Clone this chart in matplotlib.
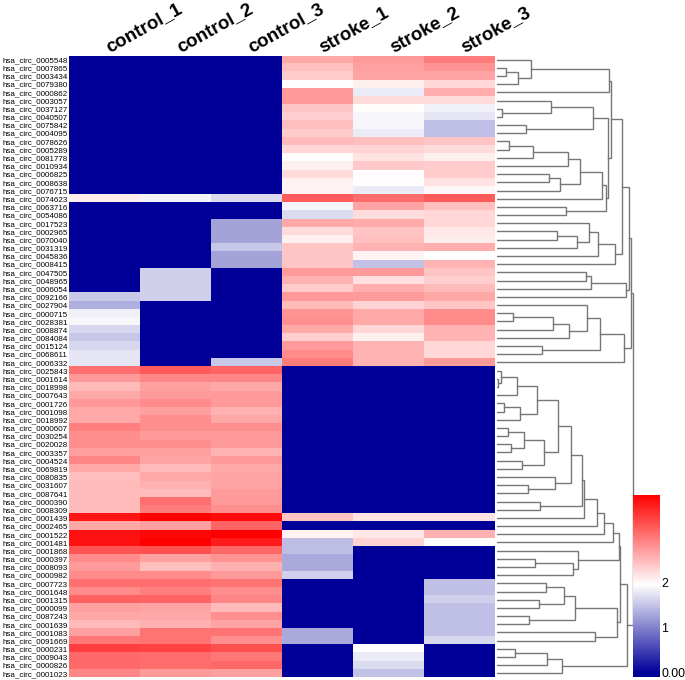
import numpy as np
import matplotlib
matplotlib.use('Agg')
import matplotlib.pyplot as plt
from matplotlib.colors import LinearSegmentedColormap, Normalize

plt.rcParams['font.family'] = ['Liberation Sans', 'DejaVu Sans']

# circRNA ids, top to bottom
circ_ids = ['0005548', '0007865', '0003434', '0079380', '0000862', '0003057', '0037127', '0040507',
            '0075842', '0004095', '0078626', '0005289', '0081778', '0010934', '0006825', '0008638',
            '0076715', '0074623', '0063716', '0054086', '0017523', '0002965', '0070040', '0031319',
            '0045836', '0008415', '0047505', '0048965', '0006054', '0092166', '0027904', '0000715',
            '0028381', '0008874', '0084084', '0015124', '0068611', '0006332', '0025843', '0001614',
            '0018998', '0007643', '0001726', '0001098', '0018992', '0000607', '0030254', '0020028',
            '0003357', '0004524', '0069819', '0080835', '0031607', '0087641', '0000390', '0008309',
            '0001439', '0002465', '0001522', '0001481', '0001868', '0000397', '0008093', '0000982',
            '0007723', '0001648', '0001315', '0000099', '0087243', '0001639', '0001083', '0091669',
            '0000231', '0009043', '0000826', '0001023']
samples = ['control_1', 'control_2', 'control_3', 'stroke_1', 'stroke_2', 'stroke_3']

# values
control_1 = [0, 0, 0, 0, 0, 0, 0, 0, 0, 0, 0, 0, 0, 0, 0, 0, 0, 2.1, 0, 0,
             0, 0, 0, 0, 0, 0, 0, 0, 0, 1.54, 1.35, 1.85, 1.9, 1.66, 1.54, 1.66, 1.77, 1.77,
             3.08, 2.76, 2.5, 2.64, 2.76, 2.64, 2.64, 2.96, 2.84, 2.84, 2.72, 2.9, 2.64, 2.46,
             2.5, 2.5, 2.5, 2.5, 3.8, 2.64, 3.83, 3.83, 3.3, 2.86, 2.74, 2.86, 3.08, 2.86, 3.2,
             2.7, 2.64, 2.5, 2.7, 3.02, 3.46, 3.14, 3.14, 2.9]
control_2 = [0, 0, 0, 0, 0, 0, 0, 0, 0, 0, 0, 0, 0, 0, 0, 0, 0, 1.88, 0, 0,
             0, 0, 0, 0, 0, 0, 1.6, 1.6, 1.6, 1.6, 0, 0, 0, 0, 0, 0, 0, 0,
             3.24, 2.9, 2.7, 2.74, 2.86, 2.7, 2.83, 2.83, 2.74, 2.83, 2.7, 2.67, 2.5, 2.64,
             2.58, 2.5, 3.08, 2.98, 3.96, 2.7, 3.9, 3.96, 3.33, 2.7, 2.46, 2.86, 3.08, 2.96, 3.18,
             2.67, 2.64, 2.58, 3.05, 3.05, 3.43, 3.11, 3.11, 2.74]
control_3 = [0, 0, 0, 0, 0, 0, 0, 0, 0, 0, 0, 0, 0, 0, 0, 0, 0, 1.69, 0, 0,
             1.26, 1.26, 1.26, 1.54, 1.26, 1.26, 0, 0, 0, 0, 0, 0, 0, 0, 0, 0, 0, 1.54,
             3.18, 2.9, 2.64, 2.74, 2.74, 2.58, 2.64, 2.83, 2.74, 2.74, 2.55, 2.74, 2.64, 2.67,
             2.67, 2.74, 2.74, 2.83, 3.87, 3.18, 3.96, 3.74, 3.14, 2.8, 2.58, 2.74, 3.05, 2.83, 2.9,
             2.5, 2.83, 2.67, 3.05, 2.83, 3.33, 3.02, 3.14, 2.7]
stroke_1 = [2.64, 2.46, 2.36, 1.96, 2.74, 2.74, 2.42, 2.33, 2.46, 2.36, 2.5, 2.27, 1.98, 2.08, 2.23,
            2.06, 2.06, 3.24, 1.88, 1.69, 2.64, 2.23, 2.08, 2.42, 2.42, 2.42, 2.74, 2.58, 2.36, 2.76,
            2.5, 2.8, 2.83, 2.64, 2.33, 2.74, 2.86, 2.98,
            0, 0, 0, 0, 0, 0, 0, 0, 0, 0, 0, 0, 0, 0, 0, 0, 0, 0,
            2.42, 0, 2.05, 1.47, 1.47, 1.31, 1.31, 1.6, 0, 0, 0, 0, 0, 0, 1.31, 1.31, 0, 0, 0, 0]
stroke_2 = [2.74, 2.7, 2.67, 2.08, 1.81, 2.23, 1.98, 1.9, 1.9, 1.81, 2.46, 2.3, 2.17, 2.38, 1.97,
            1.97, 1.81, 3.11, 2.67, 2.23, 2.62, 2.42, 2.46, 2.55, 2.05, 1.5, 2.74, 2.2, 2.6, 2.74,
            2.3, 2.64, 2.64, 2.27, 2.08, 2.55, 2.55, 2.55,
            0, 0, 0, 0, 0, 0, 0, 0, 0, 0, 0, 0, 0, 0, 0, 0, 0, 0,
            2.17, 0, 2.14, 2.3, 0, 0, 0, 0, 0, 0, 0, 0, 0, 0, 0, 0, 1.96, 1.81, 1.69, 1.5]
stroke_3 = [2.98, 2.8, 2.67, 2.27, 2.6, 2.23, 1.85, 1.77, 1.48, 1.48, 2.42, 2.23, 2.08, 2.36, 2.36,
            2.17, 2.02, 3.24, 2.46, 2.27, 2.27, 2.14, 2.1, 2.6, 1.96, 2.55, 2.42, 2.33, 2.5, 2.64,
            2.42, 2.86, 2.86, 2.55, 2.55, 2.27, 2.27, 2.74,
            0, 0, 0, 0, 0, 0, 0, 0, 0, 0, 0, 0, 0, 0, 0, 0, 0, 0,
            2.17, 0, 2.58, 1.96, 0, 0, 0, 0, 1.48, 1.48, 1.6, 1.48, 1.48, 1.48, 1.48, 1.66, 0, 0, 0, 0]

# row tree: (merge height, left, right), ints are row numbers
t_a = (112.3, (34, 0, (21, (9, 1, 2), 3)), 4)
t_b = (96, (54.3, 5, (5.3, 6, 7)), (28.7, 8, 9))
t_c = (105, (83.3, (70.7, (36, (12.3, 10, 11), 12), 13), (63.3, (52.3, 14, 15), 16)), 17)
t_d = (108.7, t_c, (68.7, 18, 19))
t_e = (117.7, (101.3, (92.3, 20, (79.7, (59.7, 21, 22), 23)), 24), 25)
t_f = (128.7, (94.3, (88.7, 26, 27), 28), 29)
t_g = (132.3, (125.3, (114.3, t_a, (110.7, t_b, t_d)), t_e), t_f)
t_h = (126.7, (103.3, (90.3, 30, (72.3, (56, (16, 31, 32), 33), 34)), (45, 35, 36)), 37)
tree_up = (134.3, t_g, t_h)

t_i = (39.7, (19.7, (3.7, 38, (1.3, 39, 40)), 41), (23.3, (7, 42, 43), 44))
t_j = (47, (27, (10.7, 45, 46), (14.3, 47, 48)), (25.3, 49, 50))
t_k = (74, (61.3, t_i, t_j), (57.7, 51, (30.7, 52, 53)))
t_l = (116.3, (107, (99.7, (87, (85, t_k, (43.3, 54, 55)), 56), 57), 58), 59)
t_m = (81.3, 60, (76, (37.7, 61, 62), 63))
t_n = (119.7, (77.7, (66.7, (48.7, 64, 65), (41.7, 66, 67)), (32.3, 68, 69)), (98, 70, 71))
t_o = (65, (50.3, (17.7, 72, 73), 74), 75)
tree_down = (130.3, (123.3, (121.7, t_l, t_m), t_n), t_o)
tree = (136, tree_up, tree_down)

W, H = 685, 680
fig = plt.figure(figsize=(W / 100, H / 100), dpi=100)


def px_axes(x0, y0, x1, y1):
    # axes from pixel box, y from the top
    return fig.add_axes([x0 / W, 1 - y1 / H, (x1 - x0) / W, (y1 - y0) / H])


cmap = LinearSegmentedColormap.from_list('bwr_navy', [(0, '#000099'), (0.1 / 4.06, '#000099'),
                                                      (2.06 / 4.06, '#ffffff'), (1, '#ff0000')], N=512)
norm = Normalize(-0.1, 3.96)

# heatmap
data = np.array([control_1, control_2, control_3, stroke_1, stroke_2, stroke_3]).T
ax = px_axes(69, 55.5, 495, 677.5)
im = ax.imshow(data, cmap=cmap, norm=norm, aspect='auto', interpolation='nearest')
ax.set_yticks(range(len(circ_ids)))
ax.set_yticklabels(['hsa_circ_' + c for c in circ_ids], fontsize=5.8)
# labels start a little right of the column centre
ax.set_xticks(np.arange(len(samples)) + 0.07)
ax.set_xticklabels(samples, fontsize=13.5, fontweight='bold', rotation=29, ha='left', va='baseline',
                   rotation_mode='anchor')
ax.tick_params(top=True, labeltop=True, bottom=False, labelbottom=False, length=0)
ax.tick_params(axis='y', pad=1)
ax.tick_params(axis='x', pad=2.5)
for s in ax.spines.values():
    s.set_visible(False)

# dendrogram
ax2 = px_axes(497, 55.5, 640, 677.5)
ax2.set_xlim(0, 143)
ax2.set_ylim(75.5, -0.5)
ax2.axis('off')


def draw(node):
    if isinstance(node, int):
        return 0, node
    h, left, right = node
    h1, y1 = draw(left)
    h2, y2 = draw(right)
    ax2.plot([h1, h, h, h2], [y1, y1, y2, y2], color='#777777', lw=1, solid_joinstyle='miter')
    return h, (y1 + y2) / 2


draw(tree)

# colour key
cax = px_axes(633, 495, 660, 677)
cb = fig.colorbar(im, cax=cax)
cb.set_ticks([0, 1, 2])
cb.set_ticklabels(['0.00', '1', '2'])
cb.ax.tick_params(length=0, labelsize=8.9, pad=1)
cb.outline.set_visible(False)

fig.savefig('out.png', dpi=100)
